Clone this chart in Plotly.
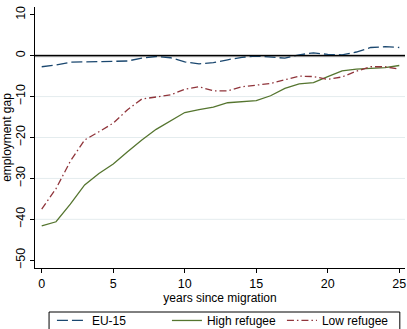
import plotly.graph_objects as go

# Years since migration
years = list(range(26))

# Employment gap (percentage points) by origin group
eu15 = [-2.7, -2.3, -1.6, -1.5, -1.4, -1.4, -1.3, -0.6, -0.2, -0.5, -1.5, -2.0, -1.7,
        -1.0, -0.4, -0.1, -0.3, -0.6, 0.2, 0.7, 0.3, 0.2, 0.9, 2.0, 2.2, 2.0]
high_refugee = [-41.6, -40.6, -36.3, -31.6, -28.8, -26.5, -23.5, -20.6, -18.0, -15.9,
                -13.9, -13.2, -12.6, -11.5, -11.2, -11.0, -9.8, -8.0, -6.9, -6.6,
                -5.1, -3.7, -3.3, -3.1, -2.9, -2.4]
low_refugee = [-37.5, -32.5, -25.8, -20.6, -18.6, -16.5, -13.2, -10.6, -10.1, -9.6,
               -8.2, -7.6, -8.6, -8.6, -7.6, -7.2, -6.8, -5.9, -5.0, -5.1,
               -5.8, -5.2, -3.8, -2.7, -2.7, -3.3]

x_ticks = [0, 5, 10, 15, 20, 25]
y_ticks = [10, 0, -10, -20, -30, -40, -50]
grid_vals = [-10, -20, -30, -40]

FONT = "Liberation Sans, Arial, sans-serif"

fig = go.Figure()
fig.add_trace(go.Scatter(x=years, y=eu15, mode="lines", name="EU-15",
                         line=dict(color="#1a476f", width=1.3, dash="11px,4px")))
fig.add_trace(go.Scatter(x=years, y=high_refugee, mode="lines", name="High refugee",
                         line=dict(color="#55752f", width=1.3)))
fig.add_trace(go.Scatter(x=years, y=low_refugee, mode="lines", name="Low refugee",
                         line=dict(color="#90353b", width=1.3, dash="7px,3px,1.5px,3px")))

# light horizontal grid at interior ticks
for g in grid_vals:
    fig.add_shape(type="line", xref="paper", x0=0, x1=1, yref="y", y0=g, y1=g,
                  line=dict(color="#e4ecee", width=1), layer="below")
# reference line at zero
fig.add_shape(type="line", xref="paper", x0=0, x1=1, yref="y", y0=0, y1=0,
              line=dict(color="#bdbdbd", width=3), layer="below")
fig.add_shape(type="line", xref="paper", x0=0, x1=1, yref="y", y0=0, y1=0,
              line=dict(color="black", width=1.3))
# legend frame
fig.add_shape(type="rect", xref="paper", yref="paper", x0=0.038, x1=0.986,
              y0=-0.1686, y1=-0.26, line=dict(color="black", width=1),
              fillcolor="white", layer="below")

fig.update_layout(
    width=407, height=329,
    margin=dict(l=35, r=2, t=7, b=61, autoexpand=False),
    paper_bgcolor="white", plot_bgcolor="white",
    font=dict(family=FONT, size=12.5, color="black"),
    showlegend=True,
    legend=dict(orientation="h", x=0.512, xanchor="center",
                yref="container", y=0.070, yanchor="top",
                borderwidth=0, bgcolor="rgba(0,0,0,0)",
                font=dict(size=12), entrywidth=70, tracegroupgap=0),
    xaxis=dict(range=[-0.47, 25.4], tickvals=x_ticks, showgrid=False, zeroline=False,
               showline=True, linecolor="black", linewidth=1, automargin=False,
               ticks="outside", ticklen=4, tickcolor="black",
               title=dict(text="years since migration", font=dict(size=12), standoff=0)),
    yaxis=dict(range=[-51.9, 11.9], tickvals=y_ticks, showgrid=False, zeroline=False,
               showline=True, linecolor="black", linewidth=1, automargin=False,
               ticks="outside", ticklen=4, tickcolor="black", tickangle=-90,
               title=dict(text="employment gap", font=dict(size=12), standoff=2)),
)

fig.write_html("out.html")
